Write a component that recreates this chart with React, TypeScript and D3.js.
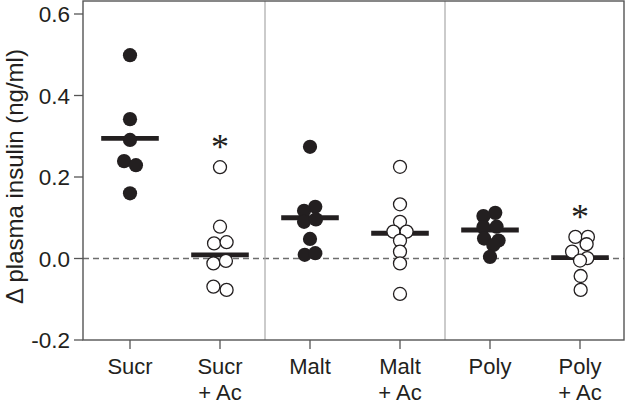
import React from "react";
import * as d3 from "d3";

const categories = ["Sucr", "Sucr + Ac", "Malt", "Malt + Ac", "Poly", "Poly + Ac"];
const filled = [true, false, true, false, true, false];
const significant = [false, true, false, false, false, true];

const sucr = [0.499, 0.342, 0.291, 0.239, 0.229, 0.16];
const sucrAc = [0.224, 0.078, 0.037, 0.04, -0.012, -0.006, -0.069, -0.077];
const malt = [0.274, 0.127, 0.117, 0.09, 0.096, 0.048, 0.009, 0.013];
const maltAc = [0.225, 0.133, 0.09, 0.066, 0.066, 0.044, 0.017, -0.012, -0.087];
const poly = [0.112, 0.104, 0.078, 0.077, 0.049, 0.044, 0.033, 0.004];
const polyAc = [0.053, 0.053, 0.035, 0.017, 0.001, -0.005, -0.043, -0.077];

// horizontal jitter of each point, in dot radii
const sucrJit = [0, 0, 0, -0.9, 0.9, 0];
const sucrAcJit = [0, 0, -0.9, 1, -1, 0.9, -1, 1];
const maltJit = [0, 0.8, -0.9, -0.9, 0.9, 0, -0.8, 0.8];
const maltAcJit = [0, 0, 0, -1, 1, 0, 0, 0, 0];
const polyJit = [0.8, -1, 1, -1, -0.9, 1.3, 0.5, 0];
const polyAcJit = [-0.7, 1.2, 1, -1.2, 1.1, 0, 0.1, 0.1];

const means = [0.295, 0.009, 0.1, 0.062, 0.07, 0.002];
const yTicks = [-0.2, 0, 0.2, 0.4, 0.6];

const groups = [sucr, sucrAc, malt, maltAc, poly, polyAc];
const jitters = [sucrJit, sucrAcJit, maltJit, maltAcJit, polyJit, polyAcJit];

const W = 626;
const H = 408;
const left = 83;
const right = 624;
const top = 1;
const bottom = 340;
const R = 7.1;
const ink = "#231f20";
const font = "'Liberation Sans', Arial, Helvetica, sans-serif";

export default function App() {
  const y = d3.scaleLinear().domain([-0.2, 0.6]).range([bottom, 14]);
  const x = d3.scalePoint<string>().domain(categories).range([left + 2, right + 1]).padding(0.5);
  const step = x.step();
  const separators = [1, 3].map((i) => ((x(categories[i]) as number) + (x(categories[i + 1]) as number)) / 2);

  return (
    <div style={{ position: "absolute", left: 0, top: 0, width: W, height: H }}>
      <svg width={W} height={H} style={{ display: "block", background: "#fff" }} fontFamily={font}>
        {/* zero line */}
        <line x1={left} x2={right} y1={y(0)} y2={y(0)} stroke="#6d6d6d" strokeWidth={1.3} strokeDasharray="6,4" />
        {/* separators */}
        {separators.map((sx, i) => (
          <line key={i} x1={sx} x2={sx} y1={top} y2={bottom} stroke="#a8a8a8" strokeWidth={1.2} />
        ))}
        {/* frame */}
        <rect x={left} y={top} width={right - left} height={bottom - top} fill="none" stroke="#555" strokeWidth={1.4} />
        {/* y ticks */}
        {yTicks.map((t) => (
          <g key={t}>
            <line x1={left - 9} x2={left} y1={y(t)} y2={y(t)} stroke="#555" strokeWidth={1.3} />
            <text x={70} y={y(t)} dy="0.36em" textAnchor="end" fontSize={22.5} fill={ink}>
              {t.toFixed(1)}
            </text>
          </g>
        ))}
        {/* x ticks and labels */}
        {categories.map((c) => {
          const cx = x(c) as number;
          const parts = c.split(" + ");
          return (
            <g key={c}>
              <line x1={cx} x2={cx} y1={bottom} y2={bottom + 9} stroke="#555" strokeWidth={1.3} />
              <text x={cx} y={374} textAnchor="middle" fontSize={22} fill={ink}>
                {parts[0]}
              </text>
              {parts.length > 1 && (
                <text x={cx} y={400} textAnchor="middle" fontSize={22} fill={ink}>
                  {"+ " + parts[1]}
                </text>
              )}
            </g>
          );
        })}
        {/* y label */}
        <text
          transform={`translate(23,${176.5}) rotate(-90)`}
          textAnchor="middle"
          fontSize={24}
          fill={ink}
        >
          Δ plasma insulin (ng/ml)
        </text>
        {/* mean bars */}
        {categories.map((c, i) => {
          const cx = x(c) as number;
          return (
            <line
              key={c}
              x1={cx - step * 0.32}
              x2={cx + step * 0.32}
              y1={y(means[i])}
              y2={y(means[i])}
              stroke={ink}
              strokeWidth={4.8}
            />
          );
        })}
        {/* points */}
        {categories.map((c, i) => {
          const cx = x(c) as number;
          return (
            <g key={c}>
              {groups[i].map((v, j) => (
                <circle
                  key={j}
                  cx={cx + jitters[i][j] * 6.6}
                  cy={y(v)}
                  r={filled[i] ? R : R - 0.6}
                  fill={filled[i] ? ink : "#fff"}
                  stroke={ink}
                  strokeWidth={filled[i] ? 0 : 1.3}
                />
              ))}
            </g>
          );
        })}
        {/* significance */}
        {categories.map((c, i) =>
          significant[i] ? (
            <text
              key={c}
              x={x(c) as number}
              y={y(d3.max(groups[i]) as number) - 27}
              dy="0.52em"
              textAnchor="middle"
              fontSize={36}
              fontFamily="'Liberation Serif', 'Times New Roman', serif"
              fill={ink}
            >
              *
            </text>
          ) : null
        )}
      </svg>
    </div>
  );
}
